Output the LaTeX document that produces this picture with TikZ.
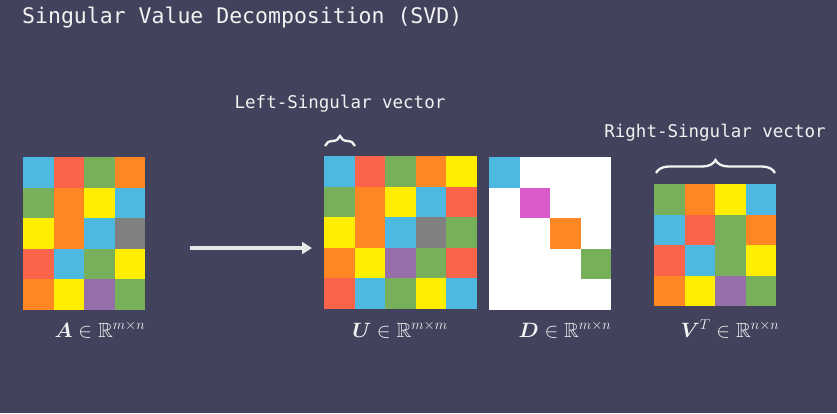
\documentclass[tikz,border=0pt]{standalone}
\usepackage{fontspec}
\setmonofont{DejaVu Sans Mono}
\usepackage{amsmath,amssymb,bm}
\usetikzlibrary{arrows.meta}
\usetikzlibrary{decorations.pathreplacing}

\definecolor{bgslate}{RGB}{66,66,92}
\definecolor{qb}{RGB}{77,185,224}
\definecolor{qr}{RGB}{250,100,75}
\definecolor{qg}{RGB}{120,175,90}
\definecolor{qo}{RGB}{255,135,35}
\definecolor{qy}{RGB}{255,238,0}
\definecolor{qk}{RGB}{128,128,128}
\definecolor{qp}{RGB}{150,110,170}
\definecolor{qm}{RGB}{218,90,200}
\definecolor{txt}{RGB}{242,242,242}

\tikzset{
  mathlbl/.style={text=txt, anchor=base, font=\fontsize{20.5}{24}\selectfont},
  monolbl/.style={text=txt, font=\ttfamily\fontsize{17.5}{20}\selectfont},
  bracemark/.style={draw=txt, line width=2.3pt, decorate, decoration={brace, amplitude=#1}},
}

% colour cells of a matrix: origin x, origin y, rows
\newcommand{\cellrows}[3]{%
  \foreach \row [count=\r from 0] in {#3}
    \foreach \c [count=\k from 0] in \row
      \fill[fill=\c] ({#1+\k*30.6},{#2+\r*30.6}) rectangle ++(30.6,30.6);
}

\begin{document}
\begin{tikzpicture}[x=1pt,y=-1pt]
                \useasboundingbox (0,0) rectangle (837,413);
                \fill[bgslate] (0,0) rectangle (837,413);
                \node[text=txt, anchor=west, inner sep=0pt, font=\ttfamily\fontsize{21.5}{24}\selectfont] (title) at (22,18) {Singular Value Decomposition (SVD)};
                % the four matrices
                \cellrows{23}{157}{{qb,qr,qg,qo},{qg,qo,qy,qb},{qy,qo,qb,qk},{qr,qb,qg,qy},{qo,qy,qp,qg}}
                \cellrows{324}{156}{{qb,qr,qg,qo,qy},{qg,qo,qy,qb,qr},{qy,qo,qb,qk,qg},{qo,qy,qp,qg,qr},{qr,qb,qg,qy,qb}}
                \fill[white] (489,157) rectangle ++(122.4,153);
                \foreach \c [count=\k from 0] in {qb,qm,qo,qg}
                  \fill[fill=\c] ({489+\k*30.6},{157+\k*30.6}) rectangle ++(30.6,30.6);
                \cellrows{654}{184}{{qg,qo,qy,qb},{qb,qr,qg,qo},{qr,qb,qg,qy},{qo,qy,qp,qg}}
                % labels
                \node[mathlbl] (labA) at (100,337) {\(\bm{A}\in\mathbb{R}^{m\times n}\)};
                \node[mathlbl] (labU) at (400,337) {\(\bm{U}\in\mathbb{R}^{m\times m}\)};
                \node[mathlbl] (labD) at (565,337) {\(\bm{D}\in\mathbb{R}^{m\times n}\)};
                \node[mathlbl] (labV) at (730,337) {\(\bm{V}^{T}\in\mathbb{R}^{n\times n}\)};
                \node[monolbl] (left) at (340,104) {Left-Singular vector};
                \node[monolbl] (right) at (715,133) {Right-Singular vector};
                % arrow and braces
                \coordinate (arrS) at (190,248);
                \coordinate (arrE) at (312,248);
                \draw[-{Triangle[length=10pt,width=12pt]}, line width=3.4pt, color=txt!90!gray] (arrS) to (arrE);
                \coordinate (bU1) at (325,146);
                \coordinate (bU2) at (355,146);
                \coordinate (bV1) at (656,173);
                \coordinate (bV2) at (775,173);
                \draw[bracemark=10pt] (bU1) to (bU2);
                \draw[bracemark=13pt] (bV1) to (bV2);
            \end{tikzpicture}
\end{document}
